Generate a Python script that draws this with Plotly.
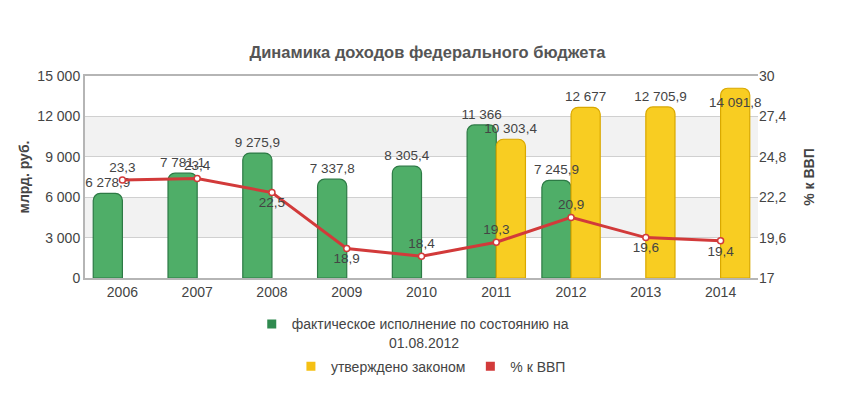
import plotly.graph_objects as go

years = ["2006", "2007", "2008", "2009", "2010", "2011", "2012", "2013", "2014"]
actual = [6278.9, 7781.1, 9275.9, 7337.8, 8305.4, 11366, 7245.9, None, None]
approved = [None, None, None, None, None, 10303.4, 12677, 12705.9, 14091.8]
gdp_pct = [23.3, 23.4, 22.5, 18.9, 18.4, 19.3, 20.9, 19.6, 19.4]
gdp_pos = ["top center", "top center", "bottom center", "bottom center", "top center",
           "top center", "top center", "bottom center", "bottom center"]
approved_pos = ["outside"] * 8 + ["inside"]
left_ticks = [0, 3000, 6000, 9000, 12000, 15000]
right_ticks = [17, 19.6, 22.2, 24.8, 27.4, 30]

title = "Динамика доходов федерального бюджета"
name_actual = "фактическое исполнение по состоянию на<br>" + "\u00a0" * 25 + "01.08.2012"
name_approved = "утверждено законом"
name_gdp = "% к ВВП"

GREEN = "#4fae68"
YELLOW = "#f8cd22"
RED = "#d23a3a"


def fmt(v):
    if v is None:
        return ""
    if float(v).is_integer():
        s = f"{int(v):,}".replace(",", " ")
    else:
        s = f"{v:,.1f}".replace(",", " ").replace(".", ",")
    return s


FONT = "Liberation Sans, Arial, sans-serif"
TXT = dict(size=13.5, color="#444", family=FONT)
fig = go.Figure()

# coloured bars
fig.add_trace(go.Bar(
    x=years, y=actual, name=name_actual, showlegend=False, offsetgroup="a",
    marker=dict(color=GREEN, line=dict(color="#2d7a45", width=1.2)),
    hoverinfo="skip",
))
fig.add_trace(go.Bar(
    x=years, y=approved, name=name_approved, showlegend=False, offsetgroup="b",
    marker=dict(color=YELLOW, line=dict(color="#d9a800", width=1.2)),
    hoverinfo="skip",
))
# transparent copies carrying the value labels so they sit above every bar
fig.add_trace(go.Bar(
    x=years, y=actual, showlegend=False, offsetgroup="a",
    marker=dict(color="rgba(0,0,0,0)", line=dict(width=0)),
    text=[fmt(v) for v in actual], textposition="outside", constraintext="none",
    textangle=0, textfont=TXT, outsidetextfont=TXT, cliponaxis=False,
))
fig.add_trace(go.Bar(
    x=years, y=approved, showlegend=False, offsetgroup="b",
    marker=dict(color="rgba(0,0,0,0)", line=dict(width=0)),
    text=[fmt(v) for v in approved], textposition=approved_pos, constraintext="none",
    insidetextanchor="end", textangle=0,
    textfont=TXT, outsidetextfont=TXT, insidetextfont=TXT, cliponaxis=False,
))
fig.add_trace(go.Scatter(
    x=years, y=gdp_pct, yaxis="y2", mode="lines+markers+text", name=name_gdp,
    line=dict(color=RED, width=3),
    marker=dict(size=6, color="white", line=dict(color=RED, width=1.5)),
    text=[fmt(v) for v in gdp_pct], textposition=gdp_pos,
    textfont=TXT, showlegend=False, cliponaxis=False,
))
# legend-only entries (square swatches as in the reference)
for nm, col, lg in [(name_actual, "#2f8a4f", "legend"), (name_approved, "#f5c014", "legend2"),
                    (name_gdp, RED, "legend2")]:
    fig.add_trace(go.Scatter(
        x=[None], y=[None], yaxis="y2", mode="markers", name=nm,
        marker=dict(symbol="square", size=9, color=col), legend=lg,
    ))

shapes = []
for i in range(len(left_ticks) - 1):
    if i % 2 == 1:
        shapes.append(dict(type="rect", xref="paper", yref="y",
                           x0=0, x1=1, y0=left_ticks[i], y1=left_ticks[i + 1],
                           fillcolor="#f2f2f2", line_width=0, layer="below"))

fig.update_layout(
    width=844, height=390,
    margin=dict(l=77, r=94, t=68, b=120, autoexpand=False),
    paper_bgcolor="white", plot_bgcolor="white",
    font=dict(family=FONT, size=14, color="#444"),
    separators=", ",
    uniformtext=dict(minsize=13.5, mode="show"),
    title=dict(text=f"<b>{title}</b>", x=0.497, xanchor="center", y=0.887, yanchor="middle",
               font=dict(size=16.5, color="#555", family=FONT)),
    barmode="group", bargap=0.22, bargroupgap=0.0,
    barcornerradius=7,
    showlegend=True,
    shapes=shapes,
    xaxis=dict(showline=True, linecolor="#b5b5b5", linewidth=2, mirror=True,
               ticks="", tickfont=dict(size=14, color="#444"), automargin=False),
    yaxis=dict(range=[0, 15000], tickvals=left_ticks, tickformat=",d",
               showgrid=True, gridcolor="#d0d0d0", gridwidth=1,
               showline=True, linecolor="#b5b5b5", linewidth=2,
               zeroline=False, ticks="", tickfont=dict(size=14, color="#444"),
               automargin=False,
               title=dict(text="<b>млрд. руб.</b>", font=dict(size=14, color="#444"), standoff=4)),
    yaxis2=dict(range=[17, 30], tickvals=right_ticks, overlaying="y", side="right",
                showgrid=False, zeroline=False, ticks="", showline=False,
                tickfont=dict(size=14, color="#444"), automargin=False,
                title=dict(text="<b>% к ВВП</b>", font=dict(size=14, color="#444"), standoff=18)),
    legend=dict(orientation="h", x=0.487, xanchor="center", y=-0.15, yanchor="top", valign="top",
                font=dict(size=14, color="#444"), bgcolor="rgba(0,0,0,0)", itemwidth=30),
    legend2=dict(orientation="h", x=0.514, xanchor="center", y=-0.36, yanchor="top",
                 font=dict(size=14, color="#444"), bgcolor="rgba(0,0,0,0)", itemwidth=30),
)

fig.write_html("out.html")
